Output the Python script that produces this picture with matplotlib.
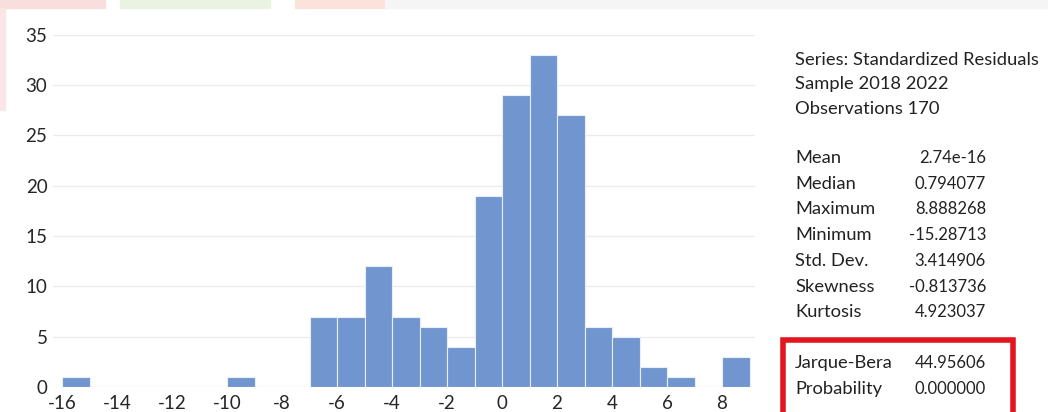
import matplotlib
matplotlib.use("Agg")
import matplotlib.pyplot as plt
from matplotlib.patches import Rectangle

# histogram of standardized residuals, bins of width 1
bin_left = [-16, -15, -14, -13, -12, -11, -10, -9, -8, -7, -6, -5, -4,
            -3, -2, -1, 0, 1, 2, 3, 4, 5, 6, 7, 8]
counts = [1, 0, 0, 0, 0, 0, 1, 0, 0, 7, 7, 12, 7,
          6, 4, 19, 29, 33, 27, 6, 5, 2, 1, 0, 3]
x_ticks = [-16, -14, -12, -10, -8, -6, -4, -2, 0, 2, 4, 6, 8]
y_ticks = [0, 5, 10, 15, 20, 25, 30, 35]

header_lines = ["Series: Standardized Residuals", "Sample 2018 2022", "Observations 170"]
stat_names = ["Mean", "Median", "Maximum", "Minimum", "Std. Dev.", "Skewness", "Kurtosis"]
stat_values = ["2.74e-16", "0.794077", "8.888268", "-15.28713", "3.414906", "-0.813736", "4.923037"]
test_names = ["Jarque-Bera", "Probability"]
test_values = ["44.95606", "0.000000"]

plt.rcParams['font.family'] = ['Lato', 'DejaVu Sans']
W, H = 1048, 412
fig = plt.figure(figsize=(W / 100, H / 100), dpi=100)

# faint watermark strip along the top edge
for x0, x1, c in [(0, 105, '#f9dede'), (120, 270, '#eaf3e2'), (295, 385, '#fbe2da'),
                  (385, 1048, '#f5f5f5')]:
    fig.patches.append(Rectangle((x0 / W, 1 - 8 / H), (x1 - x0) / W, 8 / H,
                                 transform=fig.transFigure, color=c, zorder=0))
fig.patches.append(Rectangle((0, 1 - 110 / H), 5 / W, 102 / H,
                             transform=fig.transFigure, color='#fae6e6', zorder=0))

ax = fig.add_axes([53 / W, 25 / H, (755 - 53) / W, (387 - 34.5) / H])
ax.bar(bin_left, counts, width=1, align='edge', color='#7196cf',
       edgecolor='#e8eef8', linewidth=0.8, zorder=2)
ax.set_xlim(-16.33, 9.2)
ax.set_ylim(0, 35)
ax.set_xticks(x_ticks)
ax.set_yticks(y_ticks)
ax.yaxis.grid(True, color='#ececec', linewidth=1, zorder=0)
ax.set_axisbelow(True)
for s in ax.spines.values():
    s.set_visible(False)
ax.tick_params(axis='both', length=0, labelsize=13.5, colors='#262626')
ax.tick_params(axis='x', pad=6)
ax.tick_params(axis='y', pad=4)
ax.set_xticklabels([str(v) for v in x_ticks])


def fy(py):
    return 1 - py / H


label_x = 795 / W
value_x = 986 / W
lab = dict(fontsize=13.2, color='#222222', va='baseline', ha='left')
val = dict(fontsize=12, color='#222222', va='baseline', ha='right')
for i, line in enumerate(header_lines):
    fig.text(label_x, fy(65 + 24.5 * i), line, **lab)
for i, (n, v) in enumerate(zip(stat_names, stat_values)):
    y = fy(163 + 25.7 * i)
    fig.text(label_x, y, n, **lab)
    fig.text(value_x, y, v, **val)
for i, (n, v) in enumerate(zip(test_names, test_values)):
    y = fy(368 + 26 * i)
    fig.text(label_x, y, n, **lab)
    fig.text(value_x, y, v, **val)

# red highlight box around the normality test
fig.patches.append(Rectangle((783 / W, fy(420)), (1013 - 783) / W, (420 - 339.5) / H,
                             transform=fig.transFigure, fill=False,
                             edgecolor='#e3151f', linewidth=4, zorder=5))

fig.savefig("out.png", dpi=100)
